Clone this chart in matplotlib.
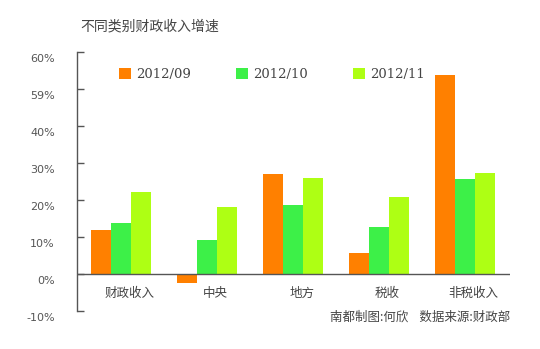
import numpy as np
import matplotlib.pyplot as plt
import matplotlib.transforms as mtransforms

plt.rcParams['font.family'] = ['Noto Sans CJK SC', 'DejaVu Sans']

# --- data ---
categories = ['财政收入', '中央', '地方', '税收', '非税收入']
series_names = ['2012/09', '2012/10', '2012/11']
sep_2012 = [11.9, -2.5, 27.0, 5.7, 53.8]
oct_2012 = [13.8, 9.2, 18.6, 12.7, 25.7]
nov_2012 = [22.2, 18.1, 26.0, 20.8, 27.3]
ytick_vals = [-10, 0, 10, 20, 30, 40, 50, 60]
ytick_labels = ['-10%', '0%', '10%', '20%', '30%', '40%', '59%', '60%']
colors = ['#FF8000', '#3DF048', '#AEFF14']

fig = plt.figure(figsize=(5.4, 3.49), dpi=100)
ax = fig.add_axes([0.1426, 0.1089, 0.8018, 0.742])

x = np.arange(len(categories))
w = 0.235
for k, (vals, name) in enumerate(zip([sep_2012, oct_2012, nov_2012], series_names)):
    ax.bar(x + (k - 1) * w, vals, width=w, color=colors[k], label=name, zorder=2)

ax.axhline(0, color='#555555', lw=1.0, zorder=3)
ax.set_xlim(-0.512, 4.523)
ax.set_ylim(-10, 60)

for s in ['top', 'right', 'bottom']:
    ax.spines[s].set_visible(False)
ax.spines['left'].set_color('#555555')
ax.spines['left'].set_linewidth(1.0)

ax.set_yticks(ytick_vals)
ax.set_yticklabels(ytick_labels, fontsize=8, color='#555555', family=['DejaVu Sans'])
ax.tick_params(axis='y', direction='in', length=5, width=1, color='#555555', pad=16)
offset = mtransforms.ScaledTranslation(0, -4 / 72, fig.dpi_scale_trans)
for lab in ax.get_yticklabels():
    lab.set_transform(lab.get_transform() + offset)

ax.set_xticks([])
for i, c in enumerate(categories):
    ax.text(x[i] + 0.1, -5.3, c, ha='center', va='center', fontsize=9, color='#444444')

fig.text(80 / 540, 1 - 26 / 349, '不同类别财政收入增速', fontsize=10, color='#444444',
         ha='left', va='center')

leg = ax.legend(loc='upper left', bbox_to_anchor=(0.07, 0.985), ncol=3, frameon=False,
                handlelength=0.9, handleheight=0.9, handletextpad=0.4, columnspacing=3.4,
                prop={'family': 'DejaVu Serif', 'size': 9.5})
for t in leg.get_texts():
    t.set_color('#444444')

fig.text(510 / 540, 1 - 317 / 349, '南都制图:何欣    数据来源:财政部', fontsize=9,
         color='#444444', ha='right', va='center')

fig.savefig('out.png', dpi=100)
